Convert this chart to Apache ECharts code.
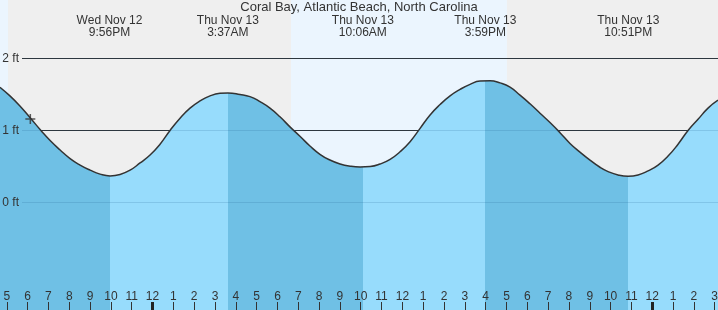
<!DOCTYPE html>
<html><head><meta charset="utf-8">
<script src="https://cdn.jsdelivr.net/npm/echarts@6/dist/echarts.min.js"></script>
<style>html,body{margin:0;padding:0;background:#fff}#c{width:718px;height:310px}</style>
</head><body><div id="c"></div>
<script>
// ---- data (hours counted from Wed Nov 12 00:00) ----
const chartTitle = 'Coral Bay, Atlantic Beach, North Carolina';
const tideTimes   = [16.67, 17.15, 17.63, 18.11, 18.64, 19.08, 19.56, 20.04, 20.52, 21.00, 21.48, 21.96, 22.44, 22.92, 23.40, 23.88, 24.36, 24.84, 25.32, 25.80, 26.28, 26.76, 27.24, 27.62, 28.20, 28.68, 29.16, 29.64, 30.12, 30.60, 31.08, 31.56, 32.04, 32.52, 33.01, 33.49, 33.97, 34.45, 34.93, 35.41, 35.89, 36.37, 36.85, 37.33, 37.81, 38.29, 38.77, 39.25, 39.73, 40.21, 40.69, 41.17, 41.65, 42.13, 42.61, 43.09, 43.57, 44.05, 44.53, 45.01, 45.49, 45.88, 46.36, 46.84, 47.32, 47.80, 48.28, 48.76, 49.24, 49.72, 50.20, 50.68, 51.16];
const tideHeights = [1.60, 1.48, 1.34, 1.18, 1.00, 0.86, 0.73, 0.61, 0.52, 0.45, 0.395, 0.37, 0.39, 0.45, 0.55, 0.66, 0.81, 1.00, 1.17, 1.31, 1.41, 1.48, 1.515, 1.52, 1.50, 1.47, 1.40, 1.31, 1.19, 1.05, 0.92, 0.785, 0.67, 0.59, 0.535, 0.505, 0.494, 0.50, 0.535, 0.60, 0.705, 0.845, 1.03, 1.215, 1.36, 1.48, 1.57, 1.64, 1.685, 1.69, 1.66, 1.60, 1.49, 1.37, 1.24, 1.11, 0.97, 0.82, 0.70, 0.59, 0.49, 0.43, 0.383, 0.365, 0.383, 0.44, 0.52, 0.645, 0.81, 1.00, 1.155, 1.31, 1.42];
const extremeTimes  = [21.933, 27.617, 34.1, 39.983, 46.85];
const extremeKinds  = ['L', 'H', 'L', 'H', 'L'];
const extremeLabels = ['Wed Nov 12\n9:56PM', 'Thu Nov 13\n3:37AM', 'Thu Nov 13\n10:06AM', 'Thu Nov 13\n3:59PM', 'Thu Nov 13\n10:51PM'];
const hourTicks  = [17,18,19,20,21,22,23,24,25,26,27,28,29,30,31,32,33,34,35,36,37,38,39,40,41,42,43,44,45,46,47,48,49,50,51];
const hourLabels = ['5','6','7','8','9','10','11','12','1','2','3','4','5','6','7','8','9','10','11','12','1','2','3','4','5','6','7','8','9','10','11','12','1','2','3'];
const midnightTicks = [24, 48];
const heightTicks  = [0, 1, 2];
const heightLabels = ['0 ft', '1 ft', '2 ft'];
const nightBands = [[17.06, 30.65], [41.02, 51.16]];
const nowPoint = [18.13, 1.16];
const xMin = 16.673, xMax = 51.159, yMin = -1.49, yMax = 2.81;

// ---- styling ----
const FONT = 'Liberation Sans, Arial, sans-serif';
const TXT = '#333';
const DARK = '#6fc0e5', LIGHT = '#97dcfc';

const pieces = [];
for (let i = 0; i <= extremeTimes.length; i++) {
  const p = {};
  if (i > 0) p.gte = extremeTimes[i - 1];
  if (i < extremeTimes.length) p.lt = extremeTimes[i];
  const falling = i < extremeKinds.length ? extremeKinds[i] === 'L' : extremeKinds[extremeKinds.length - 1] === 'H';
  p.color = falling ? DARK : LIGHT;
  pieces.push(p);
}

const chart = echarts.init(document.getElementById('c'), null, {renderer: 'canvas'});
chart.setOption({
  animation: false,
  backgroundColor: '#ebf5fe',
  title: {text: chartTitle, left: 'center', top: 1, padding: 0,
    textStyle: {fontSize: 13, fontWeight: 'normal', color: TXT, fontFamily: FONT}},
  visualMap: {type: 'piecewise', show: false, dimension: 0, seriesIndex: 0, pieces: pieces},
  grid: [
    {left: 0, right: 0, top: 0, bottom: 0, outerBoundsMode: 'none'},
    {left: 22, right: 0, top: 0, bottom: 0, outerBoundsMode: 'none'},
    {left: 0, right: 0, top: 0, bottom: 0, outerBoundsMode: 'none'}
  ],
  xAxis: [
    {gridIndex: 0, type: 'value', min: xMin, max: xMax, position: 'bottom', z: 4,
      axisLine: {show: false, onZero: false}, splitLine: {show: false},
      axisTick: {show: true, inside: true, length: 8, customValues: hourTicks, lineStyle: {color: TXT, width: 1}},
      axisLabel: {show: true, inside: true, margin: 7, customValues: hourTicks, color: TXT, fontSize: 12, fontFamily: FONT,
        formatter: v => { const i = hourTicks.indexOf(Math.round(v)); return i >= 0 ? hourLabels[i] : ''; }}},
    {gridIndex: 0, type: 'value', min: xMin, max: xMax, position: 'top', z: 4,
      axisLine: {show: false, onZero: false}, splitLine: {show: false}, axisTick: {show: false},
      axisLabel: {show: true, inside: true, margin: 15, customValues: extremeTimes, color: TXT, fontSize: 12, lineHeight: 12, fontFamily: FONT,
        formatter: v => { let b = 0; extremeTimes.forEach((t, i) => { if (Math.abs(t - v) < Math.abs(extremeTimes[b] - v)) b = i; }); return extremeLabels[b]; }}},
    {gridIndex: 1, type: 'value', min: 0, max: 1, show: false},
    {gridIndex: 2, type: 'value', min: xMin, max: xMax, position: 'bottom', z: 5,
      axisLine: {show: false, onZero: false}, splitLine: {show: false}, axisLabel: {show: false},
      axisTick: {show: true, inside: true, length: 8, customValues: midnightTicks, lineStyle: {color: '#222', width: 3}}}
  ],
  yAxis: [
    {gridIndex: 0, type: 'value', min: yMin, max: yMax, show: false},
    {gridIndex: 1, type: 'value', min: yMin, max: yMax, z: 4,
      axisLine: {show: false, onZero: false}, axisTick: {show: false}, splitLine: {show: false},
      axisLabel: {show: true, margin: 3, customValues: heightTicks, color: TXT, fontSize: 12, fontFamily: FONT,
        formatter: v => { const i = heightTicks.indexOf(Math.round(v)); return i >= 0 ? heightLabels[i] : ''; }}},
    {gridIndex: 2, type: 'value', min: yMin, max: yMax, show: false}
  ],
  series: [
    {type: 'line', xAxisIndex: 0, yAxisIndex: 0, z: 2, smooth: 0.5, symbol: 'none', silent: true,
      data: tideTimes.map((t, i) => [t, tideHeights[i]]),
      lineStyle: {color: '#333', width: 1.5},
      areaStyle: {opacity: 1, origin: 'start'},
      markArea: {silent: true, z: 0, label: {show: false}, itemStyle: {color: '#efefef'},
        data: nightBands.map(b => [{xAxis: b[0]}, {xAxis: b[1]}])}},
    {type: 'line', xAxisIndex: 2, yAxisIndex: 1, data: [], z: 1, silent: true,
      markLine: {silent: true, z: 1, symbol: ['none', 'none'], label: {show: false},
        lineStyle: {color: '#333', width: 1, type: 'solid'},
        data: heightTicks.map(v => ({yAxis: v}))}},
    {type: 'line', xAxisIndex: 2, yAxisIndex: 1, data: [], z: 3, silent: true,
      markLine: {silent: true, z: 3, symbol: ['none', 'none'], label: {show: false},
        lineStyle: {color: 'rgba(20,80,130,0.16)', width: 1, type: 'solid'},
        data: heightTicks.map(v => ({yAxis: v}))}},
    {type: 'scatter', xAxisIndex: 0, yAxisIndex: 0, z: 5, silent: true,
      data: [nowPoint], symbol: 'path://M5 0V10M0 5H10', symbolSize: 10,
      itemStyle: {color: 'transparent', borderColor: '#333', borderWidth: 1.5}}
  ]
});
</script></body></html>
